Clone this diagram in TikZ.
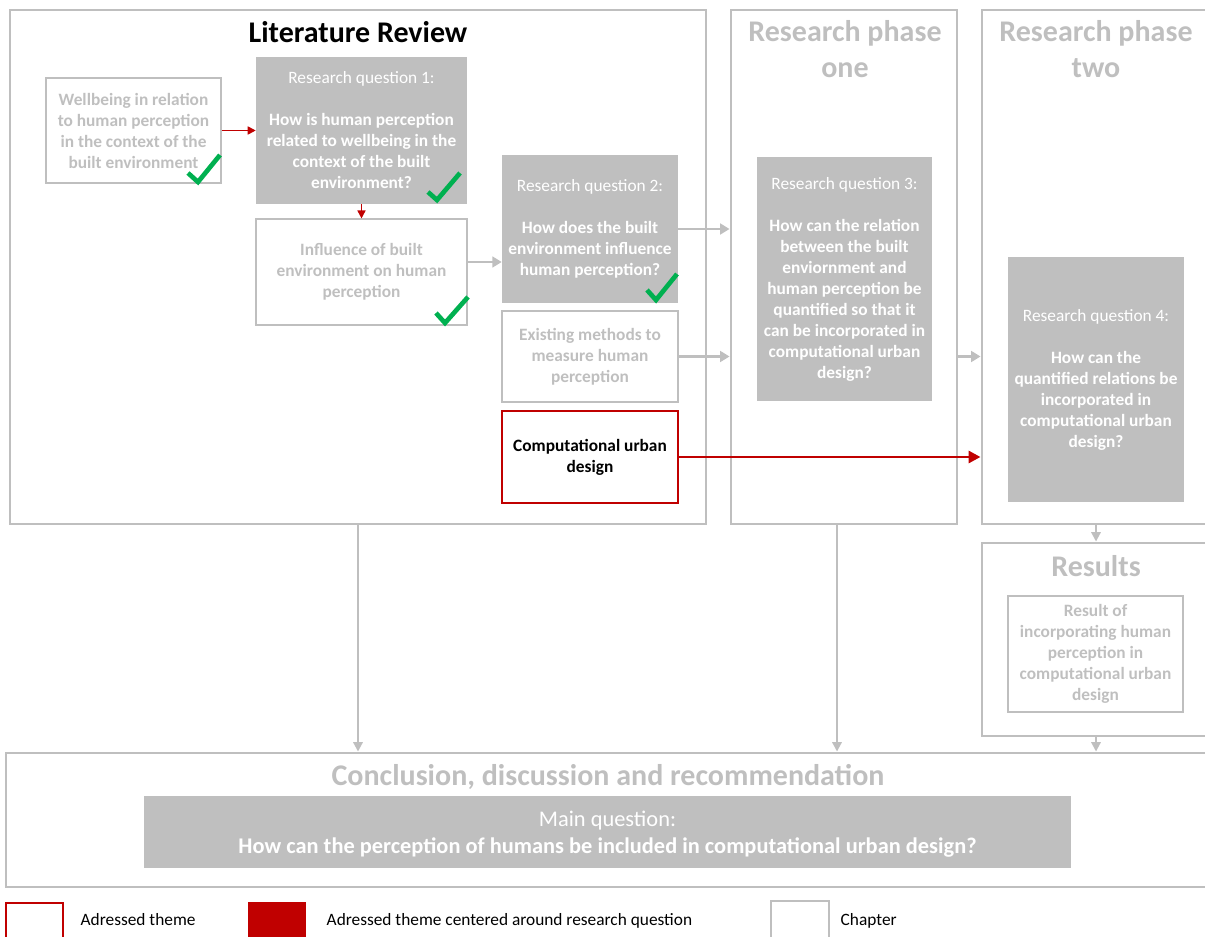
\documentclass[tikz,border=0pt]{standalone}
\usepackage{fontspec}
\setmainfont{Carlito}
\usetikzlibrary{arrows.meta,fit}
\definecolor{lgray}{HTML}{BFBFBF}
\definecolor{dred}{HTML}{C00000}
\definecolor{okgreen}{HTML}{00B050}

\begin{document}
\begin{tikzpicture}[x=0.75pt,y=-0.75pt,
  chapter/.style={draw=lgray, line width=2.2pt, inner sep=0pt},
  title/.style={font=\fontsize{22.5}{27}\selectfont\bfseries, text=lgray, align=center},
  qbox/.style={fill=lgray, inner sep=0pt},
  qtext/.style={text=white, align=center, inner sep=0pt,
    font=\fontsize{13}{15.75}\selectfont},
  theme/.style={draw=lgray, line width=0.8pt, inner sep=0pt},
  ttext/.style={text=lgray, align=center, inner sep=0pt,
    font=\fontsize{13}{15.75}\selectfont\bfseries},
  legendtext/.style={anchor=west, font=\fontsize{13}{15}\selectfont},
  garrow/.style={draw=lgray, line width=2pt, -{Triangle[length=7pt,width=8pt]}},
  gthin/.style={draw=lgray, line width=1.5pt, -{Triangle[length=7pt,width=7pt]}},
  rarrow/.style={draw=dred, line width=1.2pt, -{Triangle[length=6pt,width=6pt]}},
  rbig/.style={draw=dred, line width=2.2pt, -{Triangle[length=9pt,width=9pt]}},
  check/.style={draw=okgreen, line width=3.5pt, line join=miter}]

\useasboundingbox (0,0) rectangle (1205,937);

% chapter frames
\node[chapter, fit={(10,10)(706,524)}] (lr) {};
\node[chapter, fit={(731,10)(957,524)}] (p1) {};
\node[chapter, fit={(982,10)(1210,524)}] (p2) {};
\node[chapter, fit={(982,543)(1210,736)}] (res) {};
\node[chapter, fit={(6,753)(1210,887)}] (concl) {};

% chapter titles
\node[title, text=black] (lrt) at (358,32) {Literature Review};
\node[title] (p1t) at (845,49) {Research phase\\one};
\node[title] (p2t) at (1096,49) {Research phase\\two};
\node[title] (rest) at (1096,566) {Results};
\node[title] (conclt) at (608,777) {Conclusion, discussion and recommendation};

% boxes of the literature review
\node[theme, fit={(46,78)(221,183)}] (wb) {};
\node[qbox, fit={(256,57)(467,204)}] (rq1) {};
\node[theme, fit={(256,219)(467,325)}] (inf) {};
\node[qbox, fit={(502,155)(678,303)}] (rq2) {};
\node[theme, fit={(502,311)(678,402)}] (ex) {};
\node[theme, draw=dred, fit={(502,411)(678,503)}] (cud) {};

% boxes of the research phases
\node[qbox, fit={(757,157)(932,401)}] (rq3) {};
\node[qbox, fit={(1008,257)(1184,502)}] (rq4) {};
\node[theme, fit={(1008,596)(1183,712)}] (ro) {};
\node[qbox, fit={(144,796)(1071,868)}] (mq) {};

% box texts
\node[ttext] (wbt) at (wb.center)
  {Wellbeing in relation\\to human perception\\in the context of the\\built environment};
\node[qtext] (rq1t) at (rq1.center)
  {Research question 1:\\[15.75pt]\textbf{How is human perception}\\\textbf{related to wellbeing in the}\\\textbf{context of the built}\\\textbf{environment?}};
\node[ttext] (inft) at (inf.center)
  {Influence of built\\environment on human\\perception};
\node[qtext] (rq2t) at (rq2.center)
  {Research question 2:\\[15.75pt]\textbf{How does the built}\\\textbf{environment influence}\\\textbf{human perception?}};
\node[ttext] (ext) at (ex.center)
  {Existing methods to\\measure human\\perception};
\node[ttext, text=black] (cudt) at (cud.center)
  {Computational urban\\design};
\node[qtext] (rq3t) at (rq3.center)
  {Research question 3:\\[15.75pt]\textbf{How can the relation}\\\textbf{between the built}\\\textbf{enviornment and}\\\textbf{human perception be}\\\textbf{quantified so that it}\\\textbf{can be incorporated in}\\\textbf{computational urban}\\\textbf{design?}};
\node[qtext] (rq4t) at (rq4.center)
  {Research question 4:\\[15.75pt]\textbf{How can the}\\\textbf{quantified relations be}\\\textbf{incorporated in}\\\textbf{computational urban}\\\textbf{design?}};
\node[ttext] (rot) at (ro.center)
  {Result of\\incorporating human\\perception in\\computational urban\\design};
\node[qtext, font=\fontsize{16.8}{20.25}\selectfont] (mqt) at ([yshift=-1.5pt]mq.center)
  {Main question:\\\textbf{How can the perception of humans be included in computational urban design?}};

% connectors
\draw[rarrow] (wb.east) -- (rq1.west);
\draw[rarrow] (rq1.south) -- (inf.north);
\draw[garrow] ([yshift=7.5pt]inf.east) -- ([yshift=7.5pt]inf.east -| rq2.west);
\draw[garrow] (rq2.east) -- (rq2.east -| p1.west);
\draw[garrow] (ex.east) -- (ex.east -| p1.west);
\draw[rbig] (cud.east) -- (cud.east -| p2.west);
\draw[garrow] (p1.east |- ex.east) -- (p2.west |- ex.east);
\draw[gthin] (p2.south) -- (res.north);
\draw[gthin] (res.south) -- (res.south |- concl.north);
\draw[gthin] (lr.south) -- (lr.south |- concl.north);
\draw[gthin] ([xshift=-5.25pt]p1.south) -- ([xshift=-5.25pt]p1.south |- concl.north);

% check marks
\draw[check] (188,173) -- (198,182) -- (220,155);
\draw[check] (428,192) -- (437,200) -- (460,173);
\draw[check] (436,313) -- (445,323) -- (468,297);
\draw[check] (647,290) -- (656,300) -- (677,274);

% legend
\node[draw=dred, line width=0.8pt, inner sep=0pt, fit={(6,903)(63,945)}] (lg1) {};
\node[legendtext] (lg1t) at (76,920) {Adressed theme};
\node[fill=dred, inner sep=0pt, fit={(248,902)(306,945)}] (lg2) {};
\node[legendtext] (lg2t) at (322,921) {Adressed theme centered around research question};
\node[chapter, fit={(771,901)(829,945)}] (lg3) {};
\node[legendtext] (lg3t) at (836,921) {Chapter};
\end{tikzpicture}
\end{document}
